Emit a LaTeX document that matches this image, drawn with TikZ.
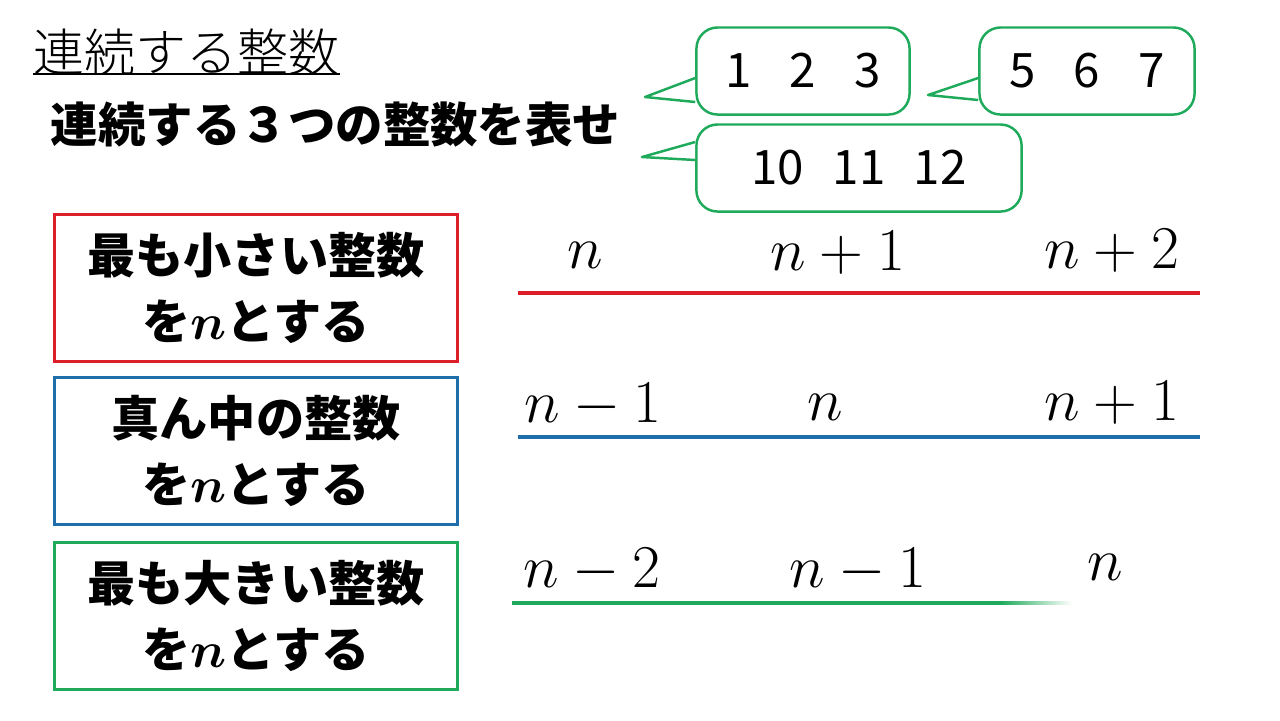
\documentclass[tikz,border=0pt]{standalone}
\usepackage{bm}
\usepackage{fontspec}
\newfontfamily\jp{Noto Sans CJK JP}
\newfontfamily\jplight{Noto Sans CJK JP Light}
\usetikzlibrary{positioning}
\definecolor{cred}{RGB}{220,30,40}
\definecolor{cblue}{RGB}{30,110,170}
\definecolor{cgreen}{RGB}{30,170,90}
\tikzset{
  rulebox/.style={draw,line width=0.9pt,minimum width=4.03cm,minimum height=1.47cm,align=center,
    font=\jp\bfseries\fontsize{13.7}{19}\selectfont},
  bubble/.style={draw=cgreen,line width=0.7pt,rounded corners=6pt,fill=white,
    minimum height=0.87cm,font=\jp\fontsize{13.5}{15}\selectfont},
  term/.style={font=\fontsize{19}{22}\selectfont},
}
\newcommand{\bn}{$\bm{n}$}
\begin{document}
\begin{tikzpicture}[x=0.01cm,y=-0.01cm]
  \useasboundingbox (0,0) rectangle (1280,720);
  % title
  \node[anchor=west,inner sep=0pt,font=\jplight\fontsize{14.5}{16}\selectfont] (title) at (33,52) {連続する整数};
  \draw[line width=0.6pt] (title.south west) ++(0,-2) coordinate (u1) -- (u1 -| title.east);
  \node[anchor=west,inner sep=0pt,font=\jp\bfseries\fontsize{13.5}{15}\selectfont] (task) at (50,125) {連続する３つの整数を表せ};
  % speech bubbles
  \node[bubble,minimum width=2.13cm] (b1) at (803,71) {1\hspace{0.8em}2\hspace{0.8em}3};
  \node[bubble,minimum width=2.15cm] (b2) at (1087,71) {5\hspace{0.8em}6\hspace{0.8em}7};
  \node[bubble,minimum width=3.25cm] (b3) at (859,168) {10\hspace{0.6em}11\hspace{0.6em}12};
  \coordinate (t1) at (645,97);
  \coordinate (t2) at (928,95);
  \coordinate (t3) at (642,157);
  \foreach \b/\t/\ya/\yb in {b1/t1/78/102,b2/t2/78/100,b3/t3/142/160}{
    \fill[white] (\b.west |- 0,\ya) -- (\t) -- (\b.west |- 0,\yb) -- cycle;
    \draw[cgreen,line width=0.7pt,line join=round] (\b.west |- 0,\ya) -- (\t) -- (\b.west |- 0,\yb);
  }
  % rule boxes
  \node[rulebox,draw=cred] (r1) at (256,288) {最も小さい整数\\を\bn とする};
  \node[rulebox,draw=cblue] (r2) at (256,451) {真ん中の整数\\を\bn とする};
  \node[rulebox,draw=cgreen] (r3) at (256,616) {最も大きい整数\\を\bn とする};
  % terms
  \node[term] (a1) at (585,255) {$n$};
  \node[term] (a2) at (838,253) {$n+1$};
  \node[term] (a3) at (1112,251) {$n+2$};
  \draw[cred,line width=1pt] (518,293) -- (1200,293);
  \node[term] (c1) at (593,405) {$n-1$};
  \node[term] (c2) at (825,407) {$n$};
  \node[term] (c3) at (1112,403) {$n+1$};
  \draw[cblue,line width=1pt] (518,437) -- (1200,437);
  \node[term] (d1) at (592,570) {$n-2$};
  \node[term] (d2) at (858,570) {$n-1$};
  \node[term] (d3) at (1105,567) {$n$};
  \draw[cgreen,line width=1pt] (512,603) -- (1000,603);
  \shade[left color=cgreen,right color=white] (1000,601.7) rectangle (1072,604.3);
\end{tikzpicture}
\end{document}
